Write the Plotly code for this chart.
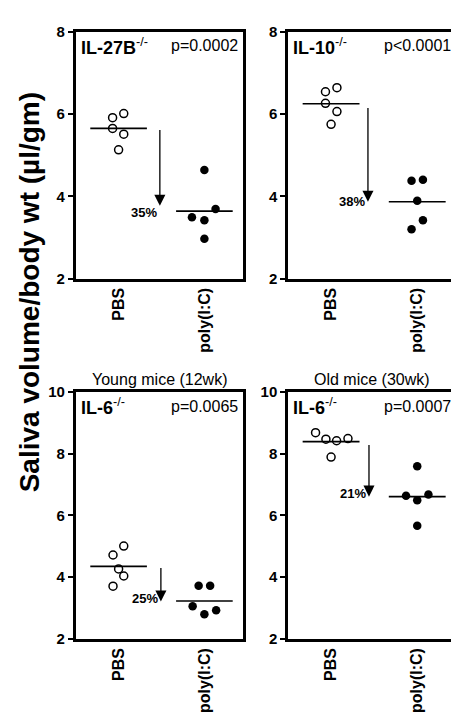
import plotly.graph_objects as go

# ---------------- data ----------------
categories = ["PBS", "poly(I:C)"]
genotypes = ["IL-27B", "IL-10", "IL-6", "IL-6"]
p_values = ["p=0.0002", "p<0.0001", "p=0.0065", "p=0.0007"]
group_titles = ["", "", "Young mice (12wk)", "Old mice (30wk)"]

pbs_1 = [5.91, 6.01, 5.65, 5.51, 5.13]
pic_1 = [4.64, 3.49, 3.42, 3.69, 2.97]
pbs_2 = [6.54, 6.64, 6.26, 6.06, 5.75]
pic_2 = [4.38, 4.40, 3.89, 3.42, 3.20]
pbs_3 = [4.72, 5.01, 4.27, 4.04, 3.71]
pic_3 = [3.72, 3.72, 3.06, 2.93, 2.80]
pbs_4 = [8.68, 8.47, 8.42, 8.49, 7.89]
pic_4 = [7.59, 6.64, 6.68, 6.49, 5.67]

median_pbs = [5.65, 6.25, 4.35, 8.39]
median_pic = [3.64, 3.87, 3.23, 6.61]
arrow_start = [5.65, 6.18, 4.35, 8.33]
arrow_tip = [3.77, 3.87, 3.21, 6.61]
pct_labels = ["35%", "38%", "25%", "21%"]
pct_label_y = [3.61, 3.87, 3.32, 6.70]
y_max = [8, 8, 10, 10]

# ------------- layout-only (positions/styles) -------------
jit_pbs = [[-0.07, 0.06, -0.07, 0.06, 0.0],
           [-0.065, 0.068, -0.065, 0.068, 0.0],
           [-0.065, 0.06, 0.0, 0.06, -0.065],
           [-0.18, -0.06, 0.064, 0.196, 0.0]]
jit_pic = [[0.0, -0.145, 0.0, 0.13, 0.0],
           [-0.066, 0.066, 0.0, 0.066, -0.066],
           [-0.067, 0.067, -0.137, 0.137, 0.0],
           [0.0, -0.13, 0.13, 0.0, 0.0]]
arrow_x = [0.481, 0.428, 0.493, 0.44]
W, H = 459, 721
x_doms = [(67.7 / W, 235 / W), (280 / W, 448 / W)]
y_doms = [(1 - 268 / H, 1 - 15 / H), (1 - 637 / H, 1 - 384 / H)]
FONT = "Arial, Liberation Sans, sans-serif"

pbs_all = [pbs_1, pbs_2, pbs_3, pbs_4]
pic_all = [pic_1, pic_2, pic_3, pic_4]

fig = go.Figure()
annotations = []
for i in range(4):
    r, c = divmod(i, 2)
    xa = "x" if i == 0 else f"x{i+1}"
    ya = "y" if i == 0 else f"y{i+1}"
    xk = "xaxis" if i == 0 else f"xaxis{i+1}"
    yk = "yaxis" if i == 0 else f"yaxis{i+1}"
    fig.add_trace(go.Scatter(
        x=[0 + j for j in jit_pbs[i]], y=pbs_all[i], mode="markers",
        marker=dict(symbol="circle-open", size=8, color="black", line=dict(width=1.5, color="black")),
        xaxis=xa, yaxis=ya, showlegend=False))
    fig.add_trace(go.Scatter(
        x=[1 + j for j in jit_pic[i]], y=pic_all[i], mode="markers",
        marker=dict(symbol="circle", size=8.5, color="black"),
        xaxis=xa, yaxis=ya, showlegend=False))
    for cx, m in ((0, median_pbs[i]), (1, median_pic[i])):
        fig.add_trace(go.Scatter(x=[cx - 0.33, cx + 0.33], y=[m, m], mode="lines",
                                 line=dict(color="black", width=1.6),
                                 xaxis=xa, yaxis=ya, showlegend=False, hoverinfo="skip"))
    fig.layout[xk] = dict(domain=x_doms[c], range=[-0.5, 1.45], anchor=ya,
                          tickvals=[0, 1], ticktext=categories, tickangle=-90,
                          showline=True, linewidth=2.5, linecolor="black", mirror=True,
                          ticks="", showgrid=False, zeroline=False,
                          tickfont=dict(family=FONT, size=16, color="black", weight="bold"))
    fig.layout[yk] = dict(domain=y_doms[r], range=[2, y_max[i]], dtick=2, anchor=xa,
                          showline=True, linewidth=2.5, linecolor="black", mirror=True,
                          ticks="outside", ticklen=5, tickwidth=2, tickcolor="black",
                          showgrid=False, zeroline=False,
                          tickfont=dict(family=FONT, size=15, color="black", weight="bold"))
    annotations.append(dict(x=arrow_x[i], y=arrow_tip[i], ax=arrow_x[i], ay=arrow_start[i],
                            xref=xa, yref=ya, axref=xa, ayref=ya, text="", showarrow=True,
                            arrowhead=2, arrowsize=1.7, arrowwidth=1.3, arrowcolor="black",
                            standoff=0, startstandoff=0))
    annotations.append(dict(x=arrow_x[i] - 0.01, y=pct_label_y[i], xref=xa, yref=ya,
                            text=pct_labels[i], showarrow=False, xanchor="right", yanchor="middle",
                            font=dict(family=FONT, size=13, color="black", weight="bold")))
    annotations.append(dict(x=0.02, y=0.995, xref=f"{xa} domain", yref=f"{ya} domain",
                            text=f"<b>{genotypes[i]}</b><sup>-/-</sup>", showarrow=False,
                            xanchor="left", yanchor="top",
                            font=dict(family=FONT, size=18, color="black")))
    annotations.append(dict(x=0.98, y=0.985, xref=f"{xa} domain", yref=f"{ya} domain",
                            text=p_values[i], showarrow=False, xanchor="right", yanchor="top",
                            font=dict(family=FONT, size=16, color="black")))
    if group_titles[i]:
        annotations.append(dict(x=0.5, y=1.0, xref=f"{xa} domain", yref=f"{ya} domain",
                                text=group_titles[i], showarrow=False, xanchor="center",
                                yanchor="bottom", yshift=2,
                                font=dict(family=FONT, size=16, color="black")))

annotations.append(dict(x=21 / W, y=1 - 282 / H, xref="paper", yref="paper",
                        text="<b>Saliva volume/body wt (µl/gm)</b>", textangle=-90,
                        showarrow=False, xanchor="center", yanchor="middle",
                        font=dict(family=FONT, size=28, color="black")))

fig.update_layout(width=W, height=H, margin=dict(l=0, r=0, t=0, b=0),
                  plot_bgcolor="white", paper_bgcolor="white",
                  annotations=annotations)
fig.write_html("out.html")
